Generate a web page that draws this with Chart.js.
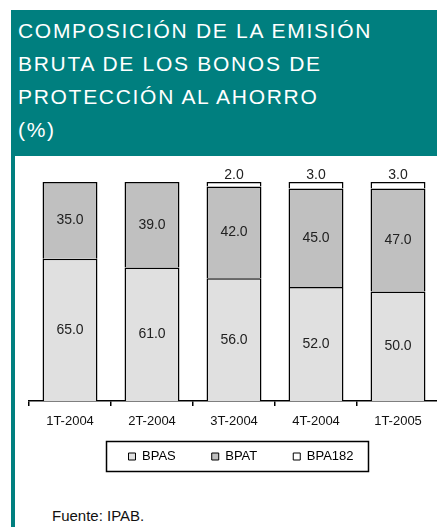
<!DOCTYPE html>
<html>
<head>
<meta charset="utf-8">
<script src="https://cdn.jsdelivr.net/npm/chart.js@4"></script>
<style>
    body { margin: 0; width: 437px; height: 527px; overflow: hidden; background: #fff; position: relative; font-family: "Liberation Sans", Arial, sans-serif; }
    .header { position: absolute; left: 11px; top: 10px; width: 426px; height: 146px; background: #007f7f; }
    .header div { position: absolute; left: 7px; color: #fff; font-size: 21px; letter-spacing: 1.7px; white-space: nowrap; }
    .side { position: absolute; left: 11px; top: 10px; width: 4px; height: 517px; background: #007f7f; }
    .wrap { position: absolute; left: 15px; top: 156px; width: 430px; height: 345px; }
    .fuente { position: absolute; left: 52px; top: 507px; font-size: 15px; color: #111; }
</style>
</head>
<body>
<div class="side"></div>
<div class="header">
    <div style="top: 9px;">COMPOSICIÓN DE LA EMISIÓN</div>
    <div style="top: 42px;">BRUTA DE LOS BONOS DE</div>
    <div style="top: 75px;">PROTECCIÓN AL AHORRO</div>
    <div style="top: 108px;">(%)</div>
</div>
<div class="wrap"><canvas id="chart" width="430" height="345"></canvas></div>
<div class="fuente">Fuente: IPAB.</div>

<script>
// Datos
const periodos = ['1T-2004', '2T-2004', '3T-2004', '4T-2004', '1T-2005'];
const bpas = [65.0, 61.0, 56.0, 52.0, 50.0];
const bpat = [35.0, 39.0, 42.0, 45.0, 47.0];
const bpa182 = [0, 0, 2.0, 3.0, 3.0];

const FONT = '"Liberation Sans", Arial, sans-serif';

// Etiquetas de valores
const valueLabels = {
    id: 'valueLabels',
    afterDatasetsDraw(chart) {
        const ctx = chart.ctx;
        ctx.save();
        ctx.font = '14px ' + FONT;
        ctx.fillStyle = '#222';
        ctx.textAlign = 'center';
        chart.data.datasets.forEach((ds, i) => {
            chart.getDatasetMeta(i).data.forEach((bar, j) => {
                const v = ds.data[j];
                if (!v) return;
                if (i === 2) {
                    ctx.textBaseline = 'bottom';
                    ctx.fillText(v.toFixed(1), bar.x, bar.y);
                } else {
                    ctx.textBaseline = 'middle';
                    ctx.fillText(v.toFixed(1), bar.x, (bar.y + bar.base) / 2);
                }
            });
        });
        ctx.restore();
    }
};

// Sube la leyenda y la centra como en el original
const legendShift = {
    id: 'legendShift',
    afterLayout(chart) {
        const lg = chart.legend;
        lg.top -= 15;
        lg.bottom -= 15;
        lg.left += 7;
        lg.right += 7;
    }
};

// Marco de la leyenda
const legendBox = {
    id: 'legendBox',
    afterDraw(chart) {
        const boxes = chart.legend.legendHitBoxes;
        if (!boxes || !boxes.length) return;
        const first = boxes[0];
        const last = boxes[boxes.length - 1];
        const cy = first.top + first.height / 2;
        const ctx = chart.ctx;
        ctx.save();
        ctx.strokeStyle = '#000';
        ctx.lineWidth = 1.5;
        ctx.strokeRect(first.left - 22, cy - 15, last.left + last.width + 15 - (first.left - 22), 30);
        ctx.restore();
    }
};

new Chart(document.getElementById('chart'), {
    type: 'bar',
    data: {
        labels: periodos,
        datasets: [
            { label: 'BPAS', data: bpas, backgroundColor: '#e0e0e0' },
            { label: 'BPAT', data: bpat, backgroundColor: '#c0c0c0' },
            { label: 'BPA182', data: bpa182, backgroundColor: '#ffffff' }
        ]
    },
    options: {
        responsive: false,
        animation: false,
        layout: { padding: { top: 26, left: 14, right: 6, bottom: 13 } },
        datasets: {
            bar: {
                borderColor: '#000',
                borderWidth: 1.5,
                categoryPercentage: 1,
                barPercentage: 0.67
            }
        },
        scales: {
            x: {
                stacked: true,
                afterFit: (scale) => { scale.height = 28; },
                grid: { display: true, drawOnChartArea: false, offset: true, tickLength: 5, color: '#000', lineWidth: 1.5 },
                border: { display: true, color: '#000', width: 1.5 },
                ticks: { color: '#111', font: { size: 13, family: FONT }, padding: 8 }
            },
            y: {
                stacked: true,
                display: false,
                min: 0,
                max: 100
            }
        },
        plugins: {
            legend: {
                position: 'bottom',
                labels: {
                    boxWidth: 7,
                    boxHeight: 7,
                    padding: 36,
                    color: '#111',
                    font: { size: 13, family: FONT },
                    generateLabels: (chart) => chart.data.datasets.map((ds, i) => ({
                        text: ds.label,
                        fillStyle: ds.backgroundColor,
                        strokeStyle: '#000',
                        lineWidth: 1,
                        datasetIndex: i
                    }))
                }
            },
            tooltip: { enabled: false }
        }
    },
    plugins: [valueLabels, legendShift, legendBox]
});
</script>
</body>
</html>
